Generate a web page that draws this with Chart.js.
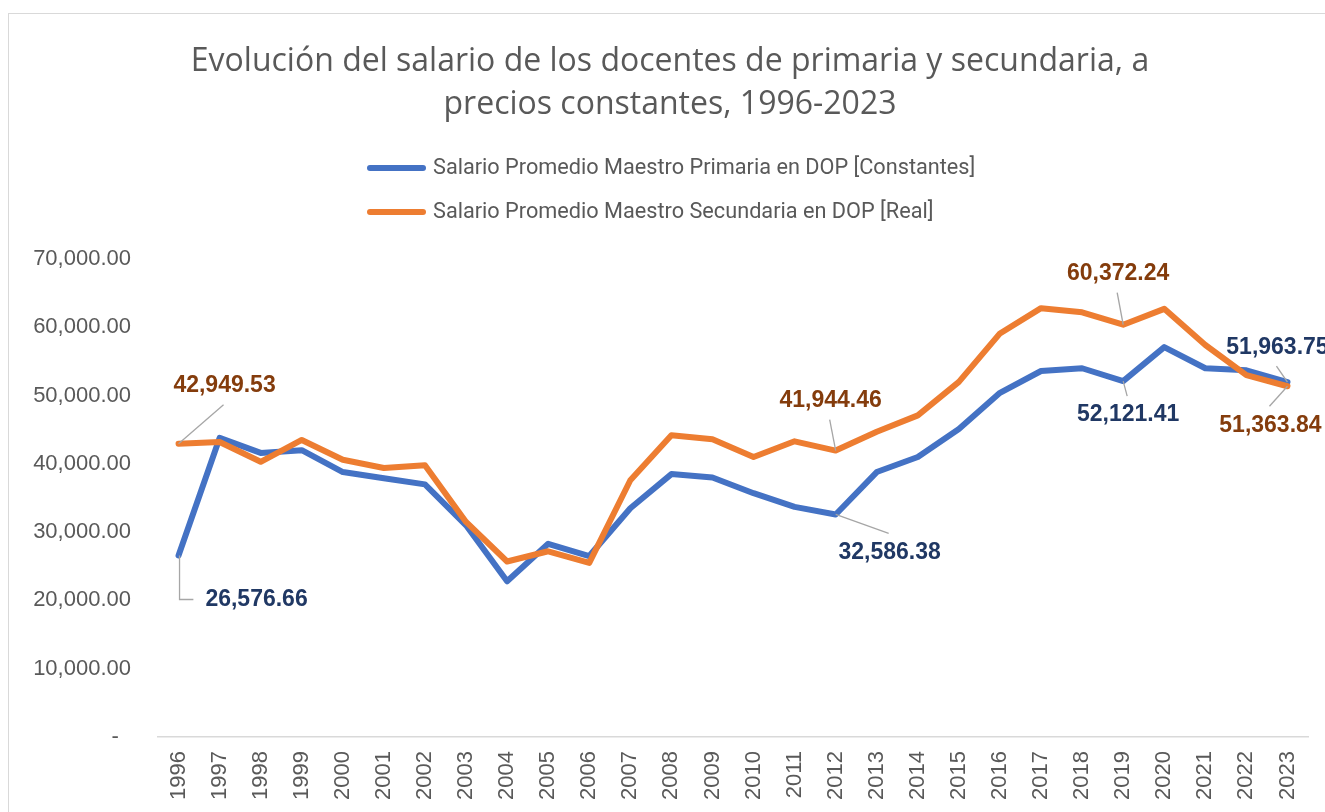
<!DOCTYPE html>
<html lang="es">
<head>
<meta charset="UTF-8">
<title>Evolución del salario de los docentes</title>
<script src="https://cdn.jsdelivr.net/npm/chart.js"></script>
<style>
    html, body { margin: 0; padding: 0; background: #fff; overflow: hidden; }
    .frame { position: absolute; left: 8px; top: 13px; width: 1400px; height: 900px; border: 1px solid #d9d9d9; }
    .wrap { position: absolute; left: 0; top: 0; width: 1325px; height: 812px; }
</style>
</head>
<body>
<div class="frame"></div>
<div class="wrap"><canvas id="salarios"></canvas></div>
<script>
// years on the category axis
const years = ['1996','1997','1998','1999','2000','2001','2002','2003','2004','2005',
               '2006','2007','2008','2009','2010','2011','2012','2013','2014','2015',
               '2016','2017','2018','2019','2020','2021','2022','2023'];

// Salario Promedio Maestro Primaria en DOP [Constantes]
const primaria = [26576.66, 43800, 41600, 42000, 38800, 37900, 37000, 31000, 22800, 28300,
                  26500, 33500, 38500, 38000, 35700, 33700, 32586.38, 38800, 41000, 45100,
                  50400, 53600, 54000, 52121.41, 57100, 54000, 53700, 51963.75];

// Salario Promedio Maestro Secundaria en DOP [Real]
const secundaria = [42949.53, 43200, 40300, 43500, 40600, 39400, 39800, 31500, 25700, 27200,
                    25500, 37600, 44200, 43600, 41000, 43300, 41944.46, 44700, 47100, 52000,
                    59100, 62800, 62200, 60372.24, 62700, 57400, 53000, 51363.84];

const yTicks = [0, 10000, 20000, 30000, 40000, 50000, 60000, 70000];

// which points carry a data label, and where the label sits relative to the point (px)
const primariaLabels = [
    { i: 0,  dx: 78,  dy: 44,  side: 'left' },
    { i: 16, dx: 54,  dy: 38 },
    { i: 23, dx: 5,   dy: 34 },
    { i: 27, dx: -10, dy: -35 }
];
const secundariaLabels = [
    { i: 0,  dx: 46,  dy: -58 },
    { i: 16, dx: -5,  dy: -50 },
    { i: 23, dx: -5,  dy: -51 },
    { i: 27, dx: -17, dy: 39 }
];

const fmt = v => v.toLocaleString('en-US', { minimumFractionDigits: 2, maximumFractionDigits: 2 });

// data labels with leader lines, like the spreadsheet ones
const leaderLabels = {
    id: 'leaderLabels',
    afterDatasetsDraw(chart) {
        const ctx = chart.ctx;
        ctx.save();
        ctx.font = 'bold 23px "Liberation Sans", Arial, sans-serif';
        ctx.textAlign = 'center';
        ctx.textBaseline = 'middle';
        chart.data.datasets.forEach((ds, d) => {
            const meta = chart.getDatasetMeta(d);
            (ds.labelSpots || []).forEach(s => {
                const pt = meta.data[s.i];
                const px = pt.x, py = pt.y;
                const cx = px + s.dx, cy = py + s.dy;
                const text = fmt(ds.data[s.i]);
                const w = ctx.measureText(text).width;
                ctx.strokeStyle = '#a6a6a6';
                ctx.lineWidth = 1.3;
                ctx.beginPath();
                if (s.side === 'left') {
                    ctx.moveTo(px + 1, py);
                    ctx.lineTo(px + 1, cy);
                    ctx.lineTo(cx - w / 2 - 12, cy);
                } else {
                    ctx.moveTo(px, py);
                    ctx.lineTo(cx - 1, cy + (py > cy ? 19 : -19));
                }
                ctx.stroke();
                ctx.fillStyle = ds.labelColor;
                ctx.fillText(text, cx, cy);
            });
        });
        ctx.restore();
    }
};

// legend stacked in two rows under the title
const stackedLegend = {
    id: 'stackedLegend',
    afterDraw(chart) {
        const ctx = chart.ctx;
        ctx.save();
        ctx.font = '21.7px Roboto, "Noto Sans", sans-serif';
        ctx.textBaseline = 'middle';
        ctx.textAlign = 'left';
        chart.data.datasets.forEach((ds, d) => {
            const y = 168 + d * 44;
            ctx.strokeStyle = ds.borderColor;
            ctx.lineWidth = 6;
            ctx.lineCap = 'round';
            ctx.beginPath();
            ctx.moveTo(370, y);
            ctx.lineTo(423, y);
            ctx.stroke();
            ctx.fillStyle = '#595959';
            ctx.fillText(ds.label, 433, y + 1);
        });
        ctx.restore();
    }
};

new Chart(document.getElementById('salarios'), {
    type: 'line',
    data: {
        labels: years,
        datasets: [
            {
                label: 'Salario Promedio Maestro Primaria en DOP [Constantes]',
                data: primaria,
                borderColor: '#4472C4',
                backgroundColor: '#4472C4',
                labelColor: '#203864',
                labelSpots: primariaLabels,
                order: 2
            },
            {
                label: 'Salario Promedio Maestro Secundaria en DOP [Real]',
                data: secundaria,
                borderColor: '#ED7D31',
                backgroundColor: '#ED7D31',
                labelColor: '#843C0C',
                labelSpots: secundariaLabels,
                order: 1
            }
        ]
    },
    options: {
        responsive: true,
        maintainAspectRatio: false,
        animation: false,
        layout: { padding: { left: 32, right: 17, top: 0, bottom: 0 } },
        elements: {
            line: { borderWidth: 6, tension: 0, borderJoinStyle: 'round', borderCapStyle: 'round' },
            point: { radius: 0, hoverRadius: 0 }
        },
        plugins: {
            legend: { display: false },
            tooltip: { enabled: false },
            title: {
                display: true,
                text: ['Evolución del salario de los docentes de primaria y secundaria, a',
                       'precios constantes, 1996-2023'],
                color: '#595959',
                font: { family: '"Open Sans", Roboto, sans-serif', size: 32, weight: 'normal', lineHeight: 43 / 32 },
                padding: { top: 40, bottom: 133 }
            }
        },
        scales: {
            x: {
                offset: true,
                grid: { display: false, offset: true },
                border: { display: true, color: '#d9d9d9', width: 1.5 },
                ticks: {
                    autoSkip: false,
                    maxRotation: 90,
                    minRotation: 90,
                    padding: 6,
                    color: '#595959',
                    font: { family: '"Liberation Sans", Arial, sans-serif', size: 22 }
                },
                afterFit: s => { s.height = 75; }
            },
            y: {
                min: 0,
                max: 70000,
                grid: { display: false, drawTicks: false },
                border: { display: false },
                afterBuildTicks: s => { s.ticks = yTicks.map(v => ({ value: v })); },
                ticks: {
                    padding: 27,
                    color: '#595959',
                    font: { family: '"Liberation Sans", Arial, sans-serif', size: 22 },
                    callback: v => v === 0 ? '-  ' : fmt(v)
                },
                afterFit: s => { s.width = 126; }
            }
        }
    },
    plugins: [leaderLabels, stackedLegend]
});
</script>
</body>
</html>
